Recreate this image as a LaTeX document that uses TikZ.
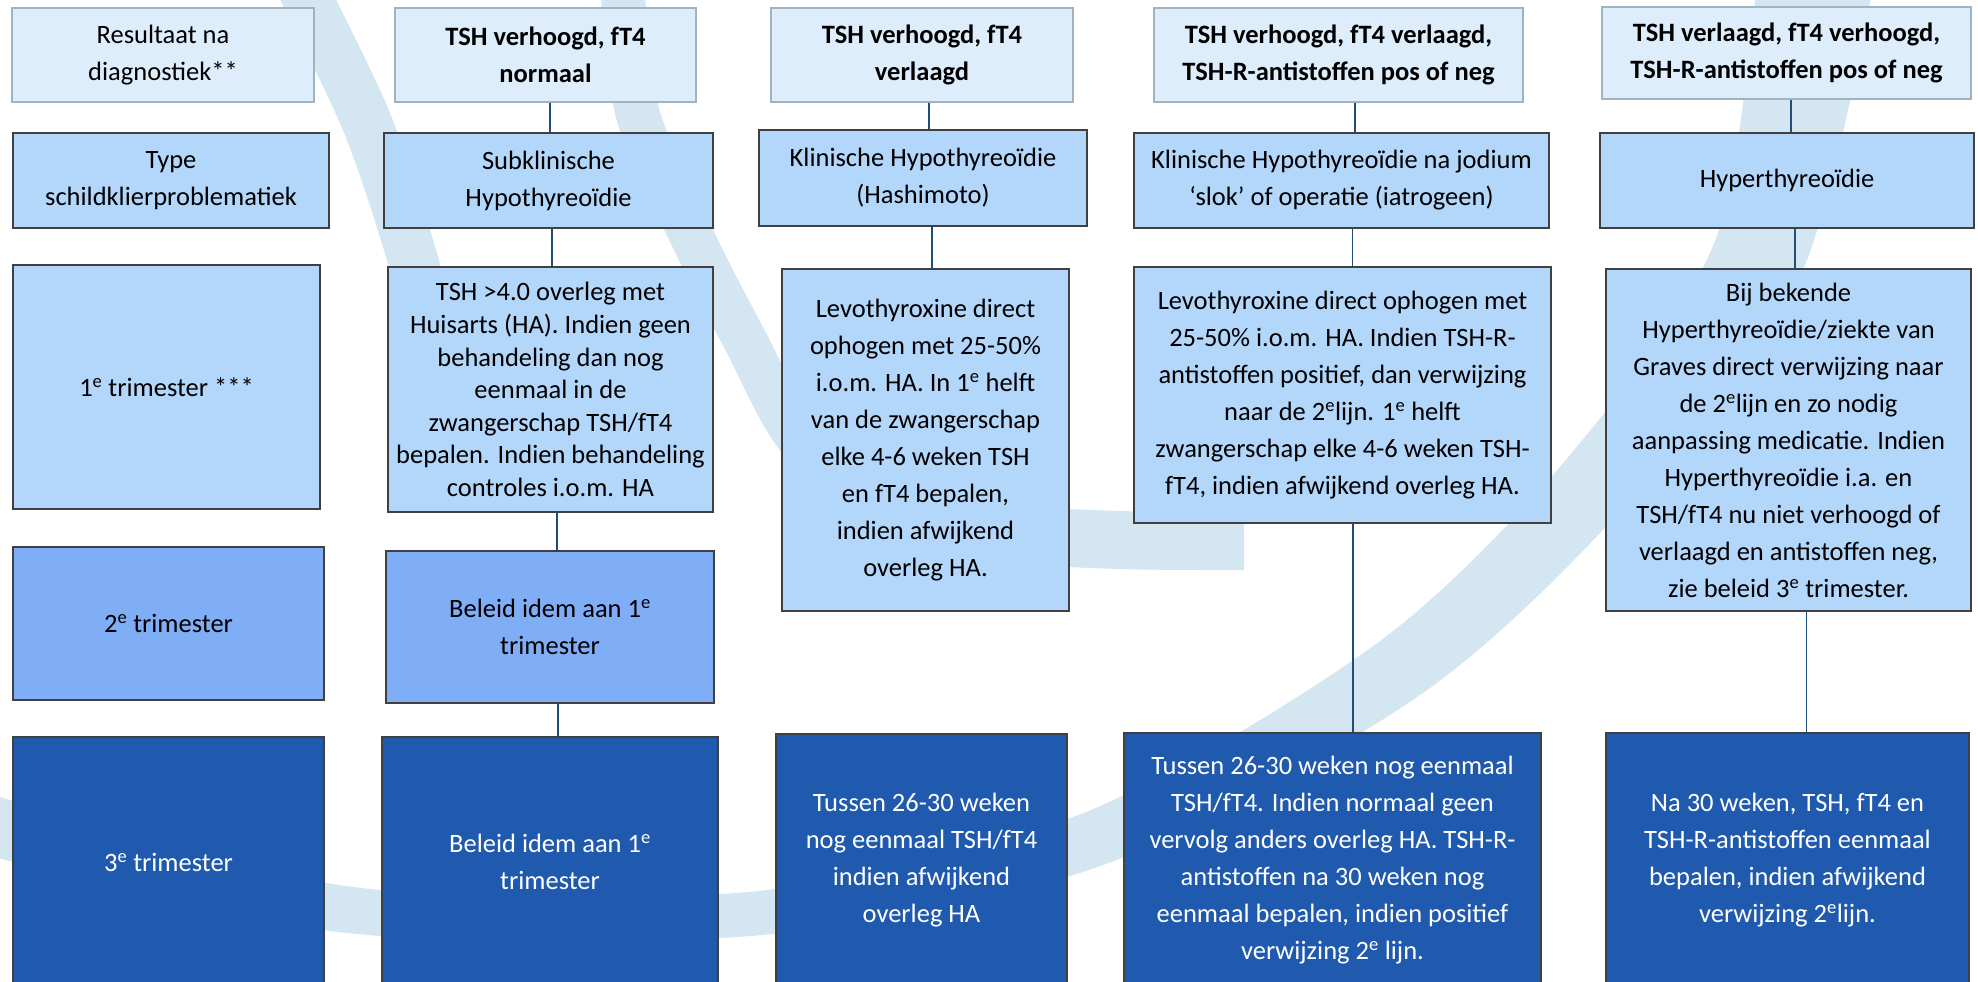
\documentclass[tikz,border=0pt]{standalone}
\usepackage{fontspec}
\setmainfont{Carlito}
\definecolor{hdrfill}{HTML}{DDEDFB}
\definecolor{hdrline}{HTML}{9FB4BF}
\definecolor{litefill}{HTML}{B3D6FB}
\definecolor{midfill}{HTML}{7FAEF7}
\definecolor{darkfill}{HTML}{1F5AAE}
\definecolor{boxline}{HTML}{404040}
\definecolor{connc}{HTML}{1F4E79}
\definecolor{wmc}{HTML}{D3E6F2}
\tikzset{
  box/.style={draw=boxline, line width=2.2pt, inner sep=0pt, align=center,
    font=\fontsize{26.5}{37}\selectfont},
  hdr/.style={box, draw=hdrline, line width=2pt, fill=hdrfill},
  hdrb/.style={hdr, font=\fontsize{26.5}{37}\selectfont\bfseries},
  lite/.style={box, fill=litefill},
  midb/.style={box, fill=midfill},
  darkb/.style={box, fill=darkfill, text=white},
  conn/.style={draw=connc, line width=1.8pt},
  wmline/.style={draw=wmc, line cap=butt},
}
\begin{document}
\begin{tikzpicture}[x=1pt, y=-1pt]
\useasboundingbox (0,0) rectangle (1978,982);
\fill[white] (0,0) rectangle (1978,982);
% watermark
\begin{scope}
\clip (0,0) rectangle (1978,982);
\fill[wmc] plot[smooth] coordinates {(1872,-8) (1799,279) (1626,505) (1420,695) (1106,864) (762,935) (347,933) (-17,854)}
  -- plot[smooth] coordinates {(-3,796) (353,887) (758,891) (1086,812) (1380,641) (1570,455) (1715,241) (1758,-32)} -- cycle;
\draw[wmline, line width=50pt] plot[smooth] coordinates {(298,-20) (365,118) (410,250) (450,400)};
\draw[wmline, line width=44pt] plot[smooth] coordinates {(622,-20) (638,115) (697,247) (745,340) (800,440) (880,490)};
\draw[wmline, line width=58pt] plot[smooth] coordinates {(860,500) (1000,532) (1120,540) (1244,541)};
\end{scope}
% header row
\node[hdr, minimum width=302, minimum height=94] (h0) at (163,55) {Resultaat na\\diagnostiek**};
\node[hdrb, minimum width=301, minimum height=94] (h1) at (545.5,55) {TSH verhoogd, fT4\\normaal};
\node[hdrb, minimum width=302, minimum height=94] (h2) at (922,55) {TSH verhoogd, fT4\\verlaagd};
\node[hdrb, minimum width=369, minimum height=94] (h3) at (1338.5,55) {TSH verhoogd, fT4 verlaagd,\\TSH-R-antistoffen pos of neg};
\node[hdrb, minimum width=369, minimum height=92] (h4) at (1786.5,53) {TSH verlaagd, fT4 verhoogd,\\TSH-R-antistoffen pos of neg};
% type row
\node[lite, minimum width=316.5, minimum height=95] (t0) at (171,180.5) {Type\\schildklierproblematiek};
\node[lite, minimum width=329, minimum height=95] (t1) at (548.5,180.5) {Subklinische\\Hypothyreoïdie};
\node[lite, minimum width=328, minimum height=96] (t2) at (923,178) {Klinische Hypothyreoïdie\\(Hashimoto)};
\node[lite, minimum width=415, minimum height=95] (t3) at (1341.5,180.5) {Klinische Hypothyreoïdie na jodium\\‘slok’ of operatie (iatrogeen)};
\node[lite, minimum width=374, minimum height=95] (t4) at (1787,180.5) {Hyperthyreoïdie};
% first trimester row
\node[lite, minimum width=307, minimum height=244] (r0) at (166.5,387) {1\textsuperscript{e} trimester ***};
\node[lite, minimum width=325, minimum height=245, font=\fontsize{26.5}{32.6}\selectfont] (r1) at (550.5,389.5) {TSH >4.0 overleg met\\Huisarts (HA). Indien geen\\behandeling dan nog\\eenmaal in de\\zwangerschap TSH/fT4\\bepalen. Indien behandeling\\controles i.o.m. HA};
\node[lite, minimum width=287, minimum height=342] (r2) at (925.5,440) {Levothyroxine direct\\ophogen met 25-50\%\\i.o.m. HA. In 1\textsuperscript{e} helft\\van de zwangerschap\\elke 4-6 weken TSH\\en fT4 bepalen,\\indien afwijkend\\overleg HA.};
\node[lite, minimum width=417, minimum height=256] (r3) at (1342.5,395) {Levothyroxine direct ophogen met\\25-50\% i.o.m. HA. Indien TSH-R-\\antistoffen positief, dan verwijzing\\naar de 2\textsuperscript{e}lijn. 1\textsuperscript{e} helft\\zwangerschap elke 4-6 weken TSH-\\fT4, indien afwijkend overleg HA.};
\node[lite, minimum width=365, minimum height=342] (r4) at (1788.5,440) {Bij bekende\\Hyperthyreoïdie/ziekte van\\Graves direct verwijzing naar\\de 2\textsuperscript{e}lijn en zo nodig\\aanpassing medicatie. Indien\\Hyperthyreoïdie i.a. en\\TSH/fT4 nu niet verhoogd of\\verlaagd en antistoffen neg,\\zie beleid 3\textsuperscript{e} trimester.};
% second trimester row
\node[midb, minimum width=311, minimum height=153] (s0) at (168.5,623.5) {2\textsuperscript{e} trimester};
\node[midb, minimum width=328, minimum height=152] (s1) at (550,627) {Beleid idem aan 1\textsuperscript{e}\\trimester};
% third trimester row
\node[darkb, minimum width=311, minimum height=250] (u0) at (168.5,862) {3\textsuperscript{e} trimester};
\node[darkb, minimum width=336, minimum height=250] (u1) at (550,862) {Beleid idem aan 1\textsuperscript{e}\\trimester};
\node[darkb, minimum width=291, minimum height=253] (u2) at (921.5,860.5) {Tussen 26-30 weken\\nog eenmaal TSH/fT4\\indien afwijkend\\overleg HA};
\node[darkb, minimum width=417, minimum height=254] (u3) at (1332.5,860) {Tussen 26-30 weken nog eenmaal\\TSH/fT4. Indien normaal geen\\vervolg anders overleg HA. TSH-R-\\antistoffen na 30 weken nog\\eenmaal bepalen, indien positief\\verwijzing 2\textsuperscript{e} lijn.};
\node[darkb, minimum width=363, minimum height=254] (u4) at (1787.5,860) {Na 30 weken, TSH, fT4 en\\TSH-R-antistoffen eenmaal\\bepalen, indien afwijkend\\verwijzing 2\textsuperscript{e}lijn.};
% connectors
\draw[conn] ([xshift=4.5pt]h1.south) -- ([xshift=4.5pt]h1.south |- t1.north);
\draw[conn] ([xshift=3.5pt]t1.south) -- ([xshift=3.5pt]t1.south |- r1.north);
\draw[conn] ([xshift=6.5pt]r1.south) -- ([xshift=6.5pt]r1.south |- s1.north);
\draw[conn] ([xshift=8pt]s1.south) -- ([xshift=8pt]s1.south |- u1.north);
\draw[conn] ([xshift=6.6pt]h2.south) -- ([xshift=6.6pt]h2.south |- t2.north);
\draw[conn] ([xshift=9pt]t2.south) -- ([xshift=9pt]t2.south |- r2.north);
\draw[conn] ([xshift=16.5pt]h3.south) -- ([xshift=16.5pt]h3.south |- t3.north);
\draw[conn] ([xshift=11pt]t3.south) -- ([xshift=11pt]t3.south |- r3.north);
\draw[conn] ([xshift=10.5pt]r3.south) -- ([xshift=10.5pt]r3.south |- u3.north);
\draw[conn] ([xshift=4.5pt]h4.south) -- ([xshift=4.5pt]h4.south |- t4.north);
\draw[conn] ([xshift=8pt]t4.south) -- ([xshift=8pt]t4.south |- r4.north);
\draw[conn] ([xshift=18pt]r4.south) -- ([xshift=18pt]r4.south |- u4.north);
\end{tikzpicture}
\end{document}
